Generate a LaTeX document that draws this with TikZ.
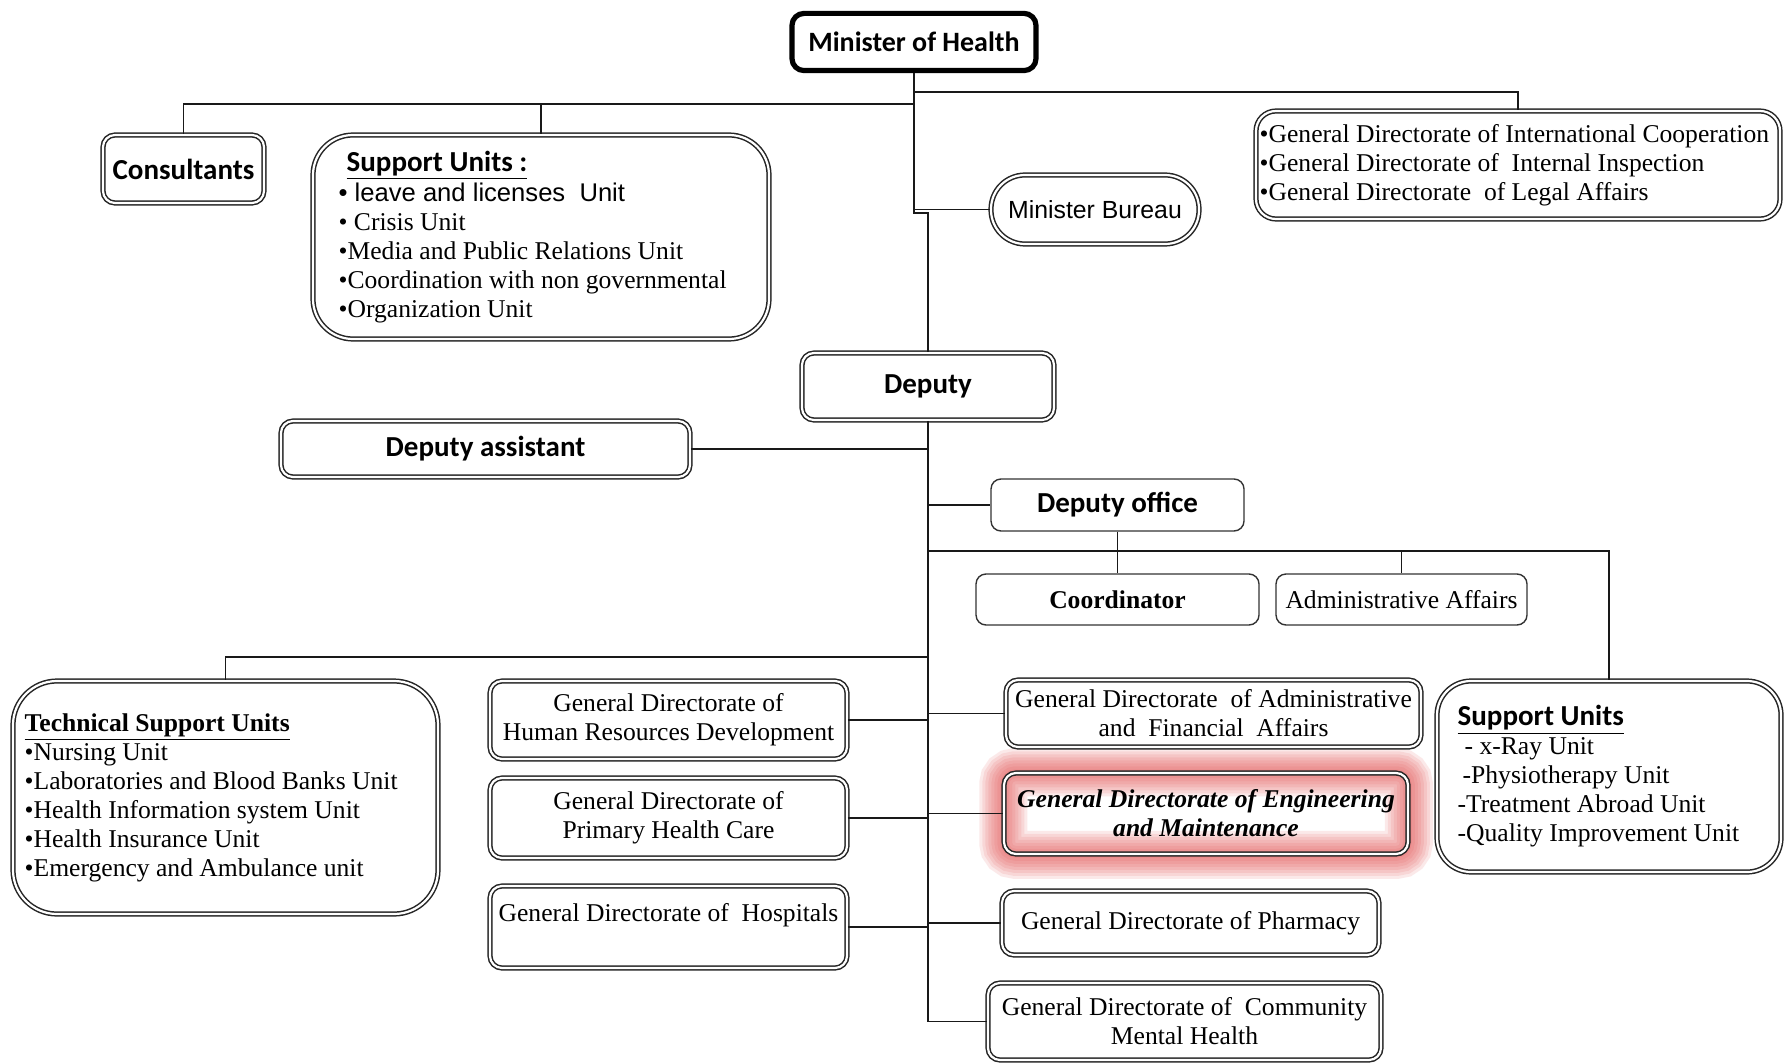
\documentclass[tikz,border=0pt]{standalone}
\usepackage{fontspec}
\setmainfont{Liberation Serif}
\newfontfamily\calib{Carlito}
\newfontfamily\arialf{Liberation Sans}
\usetikzlibrary{calc}
\pgfdeclarelayer{bg}
\pgfsetlayers{bg,main}
\definecolor{glowred}{RGB}{228,80,80}
\newcommand\txtsz{\fontsize{12.8}{14.5}\selectfont}
\newcommand\hdsz{\calib\bfseries\fontsize{14.5}{17}\selectfont}
\tikzset{
  conn/.style={draw=black!90, line width=0.85pt},
  dbox/.style={draw=black!85, line width=0.75pt, double=white, double distance=1.1pt,
    fill=white, rounded corners=#1, inner sep=2pt, align=center, font=\txtsz},
  dbox/.default=6pt,
  sbox/.style={draw=black!80, line width=0.7pt, fill=white, rounded corners=5pt,
    inner sep=2pt, align=center},
  mbox/.style={draw=black, line width=2.6pt, fill=white, rounded corners=6pt,
    inner sep=2pt, font=\calib\bfseries\fontsize{14}{16}\selectfont},
  txt/.style={inner sep=0pt, align=left, anchor=west, font=\txtsz},
}
\begin{document}
\begin{tikzpicture}[x=0.5pt,y=-0.5pt]
\begin{pgfonlayer}{bg}
  \fill[white] (0,0) rectangle (1786,1064);
\end{pgfonlayer}
\useasboundingbox (0,0) rectangle (1786,1064);

% --- top level ---
\node[mbox, minimum width=122pt, minimum height=28.6pt] (min) at (914,42) {Minister of Health};
\node[dbox=6pt, minimum width=80.5pt, minimum height=34pt, font=\hdsz] (cons) at (183.5,169) {Consultants};
\node[dbox=20pt, minimum width=228pt, minimum height=102pt] (supa) at (541,237) {};
\node[txt] (supat) at ([xshift=13pt]supa.west)
  {\hspace*{4pt}{\hdsz\underline{Support Units :}}\\[0.5pt]
   {\arialf • leave and licenses\ \ Unit}\\
   • Crisis Unit\\
   •Media and Public Relations Unit\\
   •Coordination with non governmental\\
   •Organization Unit};
\node[dbox=10pt, minimum width=262pt, minimum height=54pt] (intl) at (1518,165) {};
\node[txt] (intlt) at ([xshift=2pt]intl.west)
  {•General Directorate of International Cooperation\\
   •General Directorate of\ \ Internal Inspection\\
   •General Directorate\ \ of Legal Affairs};
\node[dbox=17pt, minimum width=104pt, minimum height=34.5pt,
  font=\arialf\fontsize{12.4}{14}\selectfont] (bur) at (1095,209.5) {Minister Bureau};

% --- deputy level ---
\node[dbox=6pt, minimum width=126pt, minimum height=33.5pt, font=\hdsz] (dep) at (928,386.5) {Deputy};
\node[dbox=6pt, minimum width=204.5pt, minimum height=28pt, font=\hdsz] (asst) at (485.5,449) {Deputy assistant};
\node[sbox, minimum width=126.5pt, minimum height=26pt, font=\hdsz] (off) at (1117.5,505) {Deputy office};
\node[sbox, minimum width=141.5pt, minimum height=25.5pt, font=\txtsz\bfseries] (coord) at (1117.5,599.5) {Coordinator};
\node[sbox, minimum width=125.5pt, minimum height=25.5pt, font=\txtsz] (adm) at (1401.5,599.5) {Administrative Affairs};

% --- directorates ---
\node[dbox=22pt, minimum width=212.5pt, minimum height=116.5pt] (tech) at (225.5,797.5) {};
\node[txt] (techt) at ([xshift=6pt]tech.west)
  {{\bfseries\underline{Technical Support Units}}\\
   •Nursing Unit\\
   •Laboratories and Blood Banks Unit\\
   •Health Information system Unit\\
   •Health Insurance Unit\\
   •Emergency and Ambulance unit};
\node[dbox, minimum width=178.5pt, minimum height=39pt] (hr) at (668.5,720) {General Directorate of\\Human Resources Development};
\node[dbox, minimum width=178.5pt, minimum height=40pt] (phc) at (668.5,818) {General Directorate of\\Primary Health Care};
\node[dbox, minimum width=178.5pt, minimum height=41pt] (hosp) at (668.5,927) {};
\node[txt, anchor=center] (hospt) at ([yshift=6pt]hosp.center) {General Directorate of\ \ Hospitals};

\node[dbox, minimum width=207.5pt, minimum height=33.5pt] (afa) at (1213.5,713.5)
  {General Directorate\ \ of Administrative\\and\ \ Financial\ \ Affairs};
\node[dbox, minimum width=202pt, minimum height=40.5pt, fill=none,
  font=\txtsz\bfseries\itshape] (eng) at (1206,813.5) {General Directorate of Engineering\\and Maintenance};
\node[dbox, minimum width=188.5pt, minimum height=32pt] (pha) at (1190.5,923) {General Directorate of Pharmacy};
\node[dbox, minimum width=196.5pt, minimum height=38.5pt] (cmh) at (1184.5,1021.5) {General Directorate of\ \ Community\\Mental Health};
\node[dbox=17pt, minimum width=172pt, minimum height=95.5pt] (supb) at (1609,776.5) {};
\node[txt] (supbt) at ([xshift=10.5pt]supb.west)
  {{\hdsz\underline{Support Units}}\\
   \hspace*{3.5pt}- x-Ray Unit\\
   \hspace*{2.5pt}-Physiotherapy Unit\\
   -Treatment Abroad Unit\\
   -Quality Improvement Unit};

% soft red halo round the engineering directorate
\begin{pgfonlayer}{bg}
  \foreach \w in {3pt,6pt,9pt,12pt,15pt,18pt,21pt,24pt}
    \draw[draw=glowred, line width=\w, opacity=0.12, rounded corners=6pt]
      (eng.south west) rectangle (eng.north east);
\end{pgfonlayer}

% --- connectors ---
\coordinate (jl) at (914,104);
\coordinate (jr) at (914,92);
\coordinate (jog) at (914,213);
\coordinate (rowR) at (928,551);
\coordinate (rowL) at (928,657);

\draw[conn] (min.south) -- (jog) -| (dep.north);
\draw[conn] (jl) -| (cons.north);
\draw[conn] (jl -| supa.north) -- (supa.north);
\draw[conn] (jr) -| (intl.north);
\draw[conn] (bur.west -| jog) -- (bur.west);

\draw[conn] (dep.south) |- (cmh.west);
\draw[conn] (asst.east) -- (asst.east -| dep.south);
\draw[conn] (off.west -| dep.south) -- (off.west);
\draw[conn] (off.south) -- (coord.north);
\draw[conn] (rowR) -- (rowR -| supb.north) -- (supb.north);
\draw[conn] (rowR -| adm.north) -- (adm.north);
\draw[conn] (rowL) -| (tech.north);

\draw[conn] (hr.east) -- (hr.east -| dep.south);
\draw[conn] (phc.east) -- (phc.east -| dep.south);
\draw[conn] (hosp.east) -- (hosp.east -| dep.south);
\draw[conn] (afa.west -| dep.south) -- (afa.west);
\draw[conn] (eng.west -| dep.south) -- (eng.west);
\draw[conn] (pha.west -| dep.south) -- (pha.west);
\end{tikzpicture}
\end{document}
